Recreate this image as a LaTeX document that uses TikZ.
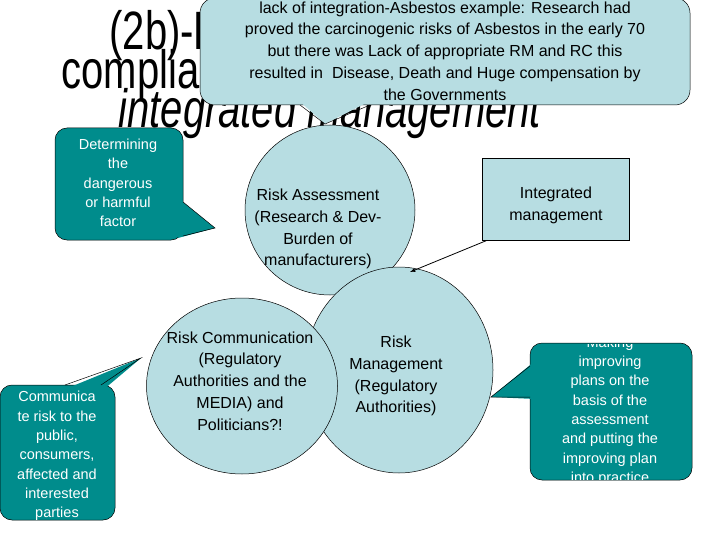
\documentclass[tikz,border=0pt]{standalone}
\usepackage{fontspec}
\setmainfont{Liberation Sans}
\usetikzlibrary{shapes.geometric}
\begin{document}
\begin{tikzpicture}[x=1pt,y=-1pt,
  lt/.style={fill=cLight,draw=black,line width=0.5pt},
  dk/.style={fill=cDark,draw=black,line width=0.5pt},
  ctext/.style={align=center,font=\fontsize{16}{21.8}\selectfont},
  wtext/.style={align=center,text=white,font=\fontsize{14.5}{19.3}\selectfont},
  ttl/.style={anchor=base west,yscale=1.35,font=\fontsize{40}{40}\selectfont}]
\definecolor{cLight}{RGB}{183,221,226}
\definecolor{cDark}{RGB}{0,140,140}
\useasboundingbox (0,0) rectangle (720,540);
% title
\node[ttl] (t1) at (106,50) {(2b)-R};
\node[ttl] (t2) at (58,89) {complia};
\node[ttl,font=\fontsize{40}{40}\selectfont\itshape] (t3) at (115,128) {integrated management};
% circles
\node[lt,circle,minimum size=170pt] (ra) at (330,210) {};
\node[lt,ellipse,minimum width=188pt,minimum height=206pt] (rm) at (399,370) {};
\node[lt,ellipse,minimum width=191pt,minimum height=176pt] (rc) at (242,386) {};
\node[ctext] (rat) at (318,229) {Risk Assessment\\(Research \& Dev-\\Burden of\\manufacturers)};
\node[ctext] (rct) at (240,381) {Risk Communication\\(Regulatory\\Authorities and the\\MEDIA) and\\Politicians?!};
\node[ctext] (rmt) at (396,376) {Risk\\Management\\(Regulatory\\Authorities)};
% integrated management box
\node[lt,rectangle,minimum width=147pt,minimum height=82pt] (im) at (556,199) {};
\node[ctext] (imt) at (556,205) {Integrated\\management};
\coordinate (imp) at (410,272);
\draw[-latex,line width=0.8pt] (im.south west) ++(5,0) -- (imp);
% top callout
\draw[lt,rounded corners=15pt] (200,-2) rectangle (690,105);
\fill[cLight] (298,100) -- (325,124) -- (372,100) -- cycle;
\draw[line width=0.5pt] (300,105) -- (325,124) -- (370,105);
\node[ctext] (top) at (445,51) {lack of integration-Asbestos example: Research had\\proved the carcinogenic risks of Asbestos in the early 70\\but there was Lack of appropriate RM and RC this\\resulted in\ \ Disease, Death and Huge compensation by\\the Governments};
% determining callout
\draw[dk,rounded corners=12pt] (55,128) rectangle (183,240);
\fill[cDark] (178,198) -- (215,228) -- (178,238) -- cycle;
\draw[line width=0.5pt] (183,202) -- (215,228) -- (183,236);
\node[wtext] (det) at (118,183) {Determining\\the\\dangerous\\or harmful\\factor};
% communicate callout
\draw[dk,rounded corners=12pt] (0,385) rectangle (115,520);
\fill[cDark] (63,390) -- (141,358) -- (103,390) -- cycle;
\draw[line width=0.5pt] (65,385) -- (141,358) -- (101,385);
\node[wtext] (com) at (57,456) {Communica\\te risk to the\\public,\\consumers,\\affected and\\interested\\parties};
% making callout
\draw[dk,rounded corners=12pt] (530,343) rectangle (692,480);
\fill[cDark] (535,361) -- (491,397) -- (535,399) -- cycle;
\draw[line width=0.5pt] (530,366) -- (491,397) -- (530,397);
\begin{scope}
\clip (531,344) rectangle (691,479);
\node[wtext] (mak) at (610,411) {Making\\improving\\plans on the\\basis of the\\assessment\\and putting the\\improving plan\\into practice};
\end{scope}
\end{tikzpicture}
\end{document}
